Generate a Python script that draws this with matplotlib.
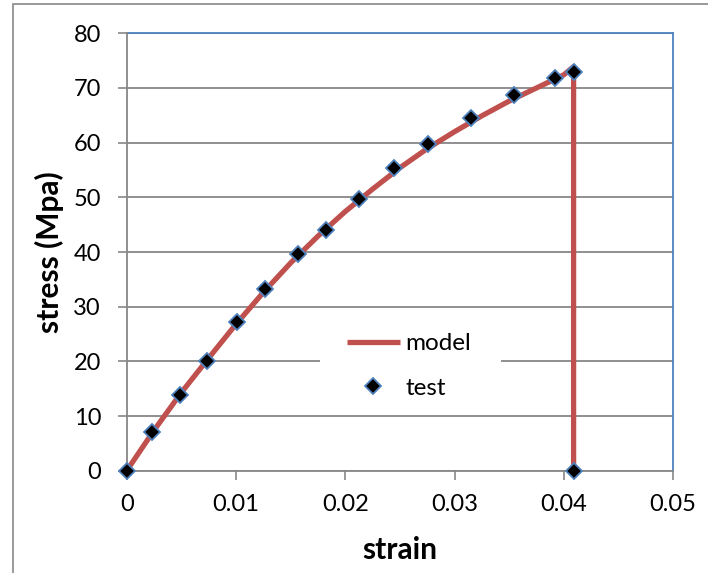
import matplotlib.pyplot as plt
from matplotlib.patches import Rectangle

plt.rcParams['font.family'] = ['Lato', 'DejaVu Sans']

# model curve (strain, MPa), ends with the drop at failure
model_strain = [0, 0.0025, 0.005, 0.0075, 0.01, 0.0125, 0.015, 0.0175, 0.02,
                0.0225, 0.025, 0.0275, 0.03, 0.0325, 0.035, 0.0375, 0.04,
                0.0409, 0.0409]
model_stress = [0, 7.4, 14.3, 20.6, 26.8, 32.6, 38.0, 42.9, 47.4,
                51.5, 55.4, 58.9, 62.0, 64.9, 67.6, 70.0, 72.4,
                73.9, 0]

# test measurements
test_strain = [0, 0.00234, 0.00486, 0.00739, 0.01009, 0.01268, 0.01569,
               0.01825, 0.02123, 0.02448, 0.02761, 0.03148, 0.03543,
               0.03917, 0.04093, 0.04093]
test_stress = [0, 7.1, 13.8, 20.0, 27.2, 33.2, 39.7,
               44.1, 49.7, 55.3, 59.8, 64.5, 68.7,
               71.8, 72.9, 0]

xticks = [0, 0.01, 0.02, 0.03, 0.04, 0.05]
xticklabels = ['0', '0.01', '0.02', '0.03', '0.04', '0.05']
yticks = [0, 10, 20, 30, 40, 50, 60, 70, 80]

grey = '#878787'
blue = '#4f81bd'
red = '#c0504d'

fig = plt.figure(figsize=(7.08, 5.73), dpi=100)
ax = fig.add_axes([0.179, 0.1785, 0.7716, 0.7634])

# chart area border
fig.patches.append(Rectangle((12.7 / 708, -0.2), 1.2, 1.2 - 4 / 573,
                             transform=fig.transFigure, fill=False,
                             edgecolor=grey, lw=1.2))

# white patch behind the legend, hides the gridline there
ax.add_patch(Rectangle((320 / 708, 1 - 404 / 573), 181 / 708, 86 / 573,
                       transform=fig.transFigure, facecolor='white',
                       edgecolor='none', zorder=1.5))

ax.plot(model_strain, model_stress, color=red, lw=3.8, label='model',
        solid_capstyle='butt', zorder=3)
ax.plot(test_strain, test_stress, ls='none', marker='D', ms=8,
        mfc='black', mec=blue, mew=1.3, label='test', zorder=6,
        clip_on=False)

ax.set_xlim(0, 0.05)
ax.set_ylim(0, 80)
ax.set_xticks(xticks)
ax.set_xticklabels(xticklabels)
ax.set_yticks(yticks)
ax.yaxis.grid(True, color=grey, lw=1.3)
ax.set_axisbelow(True)

for side in ['top', 'right']:
    ax.spines[side].set_color(blue)
    ax.spines[side].set_linewidth(1.3)
for side in ['left', 'bottom']:
    ax.spines[side].set_color(grey)
    ax.spines[side].set_linewidth(1.3)
    ax.spines[side].set_zorder(5)

ax.tick_params(direction='out', length=6.5, width=1.2, color=grey,
               labelsize=17, labelcolor='black')
ax.tick_params(axis='y', pad=12)
ax.tick_params(axis='x', pad=10.5)

ax.set_xlabel('strain', fontsize=21.5, fontweight='bold', labelpad=15)
ax.set_ylabel('stress (Mpa)', fontsize=21.5, fontweight='bold', labelpad=7)

leg = ax.legend(loc='center', bbox_to_anchor=(409 / 708, 1 - 366 / 573),
                bbox_transform=fig.transFigure, fontsize=17.5, frameon=False,
                handlelength=2.18, handletextpad=0.25, labelspacing=0.98,
                borderpad=0, borderaxespad=0)

fig.savefig('out.png', dpi=100)
